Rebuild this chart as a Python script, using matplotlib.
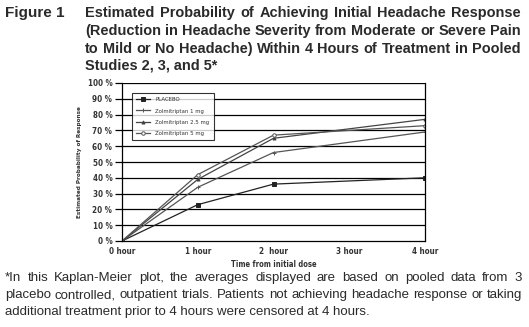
import matplotlib
matplotlib.use("Agg")
import matplotlib.pyplot as plt

hours = [0, 1, 2, 4]
xtick_labels = ["0 hour", "1 hour", "2  hour", "3 hour", "4 hour"]
placebo = [0, 23, 36, 40]
zol_1mg = [0, 34, 56, 69]
zol_2_5mg = [0, 39, 65, 77]
zol_5mg = [0, 42, 67, 73]
series_names = ["PLACEBO", "Zolmitriptan 1 mg", "Zolmitriptan 2.5 mg", "Zolmitriptan 5 mg"]

title_lines = [
    "Estimated Probability of Achieving Initial Headache Response",
    "(Reduction in Headache Severity from Moderate or Severe Pain",
    "to Mild or No Headache) Within 4 Hours of Treatment in Pooled",
    "Studies 2, 3, and 5*",
]
foot_lines = [
    "*In this Kaplan-Meier plot, the averages displayed are based on pooled data from 3",
    "placebo controlled, outpatient trials. Patients not achieving headache response or taking",
    "additional treatment prior to 4 hours were censored at 4 hours.",
]

W, H = 529, 327
fig = plt.figure(figsize=(W / 100, H / 100), dpi=100)
fig.patch.set_facecolor("white")
renderer = fig.canvas.get_renderer()

ax = fig.add_axes([122 / W, (H - 241) / H, (425 - 122) / W, (241 - 83) / H])
cfont = dict(family="DejaVu Sans", fontstretch="condensed", fontweight="bold", color="#333333")

styles = [
    (placebo, "s", 3.0, "#222222", "#222222"),
    (zol_1mg, "+", 3.0, "#555555", "#555555"),
    (zol_2_5mg, "^", 2.2, "#444444", "#444444"),
    (zol_5mg, "o", 2.5, "#555555", "white"),
]
for (vals, m, ms, c, fc), name in zip(styles, series_names):
    ax.plot(hours, vals, color=c, lw=0.9, marker=m, ms=ms, mfc=fc, mec=c, mew=0.7, label=name)

ax.set_xlim(0, 4)
ax.set_ylim(0, 100)
ax.set_yticks(range(0, 101, 10))
ax.set_yticklabels([f"{v} %" for v in range(0, 101, 10)], fontsize=5.8, **cfont)
ax.set_xticks(range(5))
ax.set_xticklabels(xtick_labels, fontsize=5.8, **cfont)
for v in range(10, 101, 10):
    ax.axhline(v, color="black", lw=0.9, zorder=0)
for s in ax.spines.values():
    s.set_color("black")
    s.set_linewidth(0.9)
ax.spines["top"].set_visible(False)
ax.tick_params(axis="y", direction="out", length=5, width=0.9, pad=2)
ax.tick_params(axis="x", length=0, pad=4)

ax.set_xlabel("Time from initial dose", fontsize=5.5, labelpad=3, **cfont)
ax.set_ylabel("Estimated Probability of Response", fontsize=4.6, labelpad=4, **cfont)

leg = ax.legend(loc="upper left", bbox_to_anchor=(10 / 303, (241 - 93) / 158), fontsize=4.3,
                frameon=True, fancybox=False, edgecolor="black", handlelength=2.3,
                borderpad=0.7, labelspacing=1.0, handletextpad=0.9, borderaxespad=0)
leg.get_frame().set_linewidth(0.8)
for t in leg.get_texts():
    t.set_fontstretch("condensed")
    t.set_color("#333333")

fig.text(5 / W, 1 - 13 / H, "Figure 1", fontsize=11, fontweight="bold", family="Liberation Sans",
         color="#2a2a2a", va="center", ha="left")


def fit_size(line, width, **kw):
    t = fig.text(0, 0, line, fontsize=10, **kw)
    w = t.get_window_extent(renderer).width
    t.remove()
    return 10 * width / w


def justified(lines, x0, x1, ys, ref_line, **kw):
    size = fit_size(lines[ref_line], x1 - x0, **kw)
    for i, (line, y) in enumerate(zip(lines, ys)):
        if i == len(lines) - 1:
            fig.text(x0 / W, 1 - y / H, line, va="center", ha="left", fontsize=size, **kw)
            continue
        words = line.split(" ")
        texts = [fig.text(0, 0, w, va="center", ha="left", fontsize=size, **kw) for w in words]
        widths = [t.get_window_extent(renderer).width for t in texts]
        gap = (x1 - x0 - sum(widths)) / (len(words) - 1)
        x = x0
        for t, w in zip(texts, widths):
            t.set_position((x / W, 1 - y / H))
            x += w + gap


justified(title_lines, 85, 521, [13, 31, 49, 66], 1, fontweight="bold",
          family="Liberation Sans", color="#2a2a2a")
justified(foot_lines, 5, 522, [278, 295, 312], 1, family="Liberation Sans",
          color="#2a2a2a")

fig.savefig("out.png", dpi=100, facecolor="white")
